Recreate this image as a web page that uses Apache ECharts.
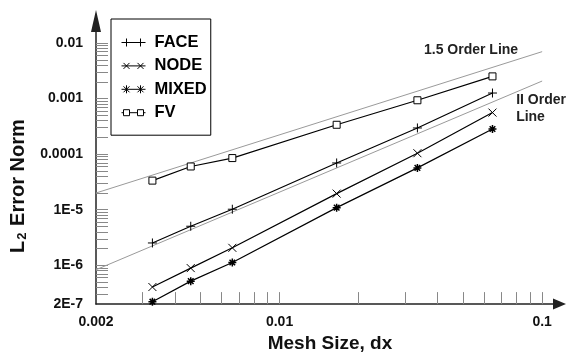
<!DOCTYPE html>
<html>
<head>
<meta charset="utf-8">
<script src="https://cdn.jsdelivr.net/npm/echarts@6/dist/echarts.min.js"></script>
<style>
  html, body { margin: 0; padding: 0; background: #fff; }
  #main { width: 566px; height: 358px; }
</style>
</head>
<body>
<div id="main"></div>
<script>
// Mesh refinement study: L2 error norm versus mesh size
const meshSize = [0.00328, 0.00459, 0.00661, 0.0165, 0.0335, 0.0647];
const faceErr  = [2.52e-6, 5.04e-6, 1.02e-5, 6.94e-5, 2.96e-4, 1.26e-3];
const nodeErr  = [4.06e-7, 8.89e-7, 2.06e-6, 1.95e-5, 1.04e-4, 5.6e-4];
const mixedErr = [2.21e-7, 5.18e-7, 1.12e-6, 1.09e-5, 5.66e-5, 2.84e-4];
const fvErr    = [3.34e-5, 6.0e-5, 8.5e-5, 3.38e-4, 9.33e-4, 2.51e-3];

// Reference slope lines
const orderLineX = [0.002, 0.1];
const order15Y   = [2.0e-5, 7.0e-3];
const order2Y    = [8.3e-7, 2.07e-3];
const order15Label = '1.5 Order Line';
const order2Label  = 'II Order\nLine';

// Axis tick labels
const xLabelValues = [0.002, 0.01, 0.1];
const xLabelText   = ['0.002', '0.01', '0.1'];
const yLabelValues = [2e-7, 1e-6, 1e-5, 1e-4, 1e-3, 1e-2];
const yLabelText   = ['2E-7', '1E-6', '1E-5', '0.0001', '0.001', '0.01'];

const FONT = '"Liberation Sans", Arial, Helvetica, sans-serif';

// k * 10^n tick positions between two decades
function logTicks(lo, hi) {
  const out = [];
  for (let e = Math.floor(Math.log10(lo)) ; e <= Math.ceil(Math.log10(hi)); e++) {
    for (let k = 1; k <= 9; k++) {
      const v = +(k * Math.pow(10, e)).toPrecision(6);
      if (v >= lo * 0.9999 && v <= hi * 1.0001) out.push(v);
    }
  }
  return out;
}

function lookupLabel(values, texts) {
  return function (v) {
    for (let i = 0; i < values.length; i++) {
      if (Math.abs(Math.log10(v) - Math.log10(values[i])) < 1e-4) return texts[i];
    }
    return '';
  };
}

function pairs(xs, ys) { return xs.map((x, i) => [x, ys[i]]); }

// Marker outlines (stroked, not filled)
const plusPath  = 'path://M0,5L10,5M5,0L5,10';
const crossPath = 'path://M0,0L10,10M10,0L0,10';
const starPath  = 'path://M0,5L10,5M5,0L5,10M1.5,1.5L8.5,8.5M8.5,1.5L1.5,8.5';
const boxPath   = 'path://M0,0L10,0L10,10L0,10Z';

// Legend swatches: a short line with two markers
const legendIcons = {
  FACE:  'path://M0,0M24,10M0,5L24,5M5,1L5,9M19,1L19,9',
  NODE:  'path://M0,0M24,10M0,5L24,5M2,2L8,8M8,2L2,8M16,2L22,8M22,2L16,8',
  MIXED: 'path://M0,0M24,10M0,5L24,5M2,2L8,8M8,2L2,8M5,1L5,9M16,2L22,8M22,2L16,8M19,1L19,9',
  FV:    'path://M0,0M24,10M0,5L2,5M8,5L16,5M22,5L24,5M2,2L8,2L8,8L2,8ZM16,2L22,2L22,8L16,8Z'
};

const markerStyle = { color: '#fff', borderColor: '#000', borderWidth: 1 };

function dataSeries(name, ys, symbol, size, bw) {
  return {
    name: name, type: 'line', data: pairs(meshSize, ys),
    symbol: symbol, symbolSize: size, showSymbol: true,
    lineStyle: { color: '#000', width: 1.2 },
    itemStyle: { color: '#fff', borderColor: '#000', borderWidth: bw || 1 },
    emphasis: { disabled: true }, silent: true, z: 3
  };
}

function refSeries(name, ys, labelText, labelPos, align) {
  const d = pairs(orderLineX, ys);
  d[1] = {
    value: d[1],
    label: {
      show: true, formatter: labelText, position: labelPos, align: align,
      verticalAlign: 'middle', fontFamily: FONT, fontSize: 14, fontWeight: 'bold',
      color: '#222', lineHeight: 17
    }
  };
  return {
    name: name, type: 'line', data: d, symbol: 'circle', symbolSize: 0,
    lineStyle: { color: '#9a9a9a', width: 1 },
    itemStyle: { color: '#9a9a9a' },
    emphasis: { disabled: true }, silent: true, z: 2
  };
}

const chart = echarts.init(document.getElementById('main'), null, { renderer: 'canvas' });

chart.setOption({
  animation: false,
  backgroundColor: '#fff',
  grid: { left: 96, right: 13, top: 32, bottom: 48 },
  legend: {
    orient: 'vertical', left: 111, top: 19,
    padding: [15, 4, 14, 10], itemGap: 6.4,
    itemWidth: 24, itemHeight: 10,
    borderColor: '#000', borderWidth: 1,
    selectedMode: false,
    textStyle: { fontFamily: FONT, fontSize: 16.5, fontWeight: 'bold', color: '#000', lineHeight: 16, padding: [0, 0, 0, 4] },
    data: ['FACE', 'NODE', 'MIXED', 'FV'].map(n => ({ name: n, icon: legendIcons[n], itemStyle: markerStyle }))
  },
  xAxis: {
    type: 'log', logBase: 10, min: 0.002, max: 0.11,
    splitLine: { show: false },
    axisLine: {
      show: true, lineStyle: { color: '#222', width: 1.5 },
      symbol: ['none', 'triangle'], symbolSize: [11, 13], symbolOffset: [0, 6.5]
    },
    axisTick: { show: true, inside: true, length: 12, customValues: logTicks(0.003, 0.1), lineStyle: { color: '#888', width: 1 } },
    minorTick: { show: false },
    axisLabel: {
      customValues: xLabelValues, formatter: lookupLabel(xLabelValues, xLabelText),
      margin: 11, fontFamily: FONT, fontSize: 14, fontWeight: 'bold', color: '#111'
    },
    name: 'Mesh Size, dx', nameLocation: 'middle', nameGap: 28,
    nameTextStyle: { fontFamily: FONT, fontSize: 19, fontWeight: 'bold', color: '#111', padding: [0, 0, 0, 11] }
  },
  yAxis: {
    type: 'log', logBase: 10, min: 2e-7, max: 0.0158,
    splitLine: { show: false },
    axisLine: {
      show: true, lineStyle: { color: '#222', width: 1.5 },
      symbol: ['none', 'triangle'], symbolSize: [10, 22], symbolOffset: [0, 11]
    },
    axisTick: { show: true, inside: true, length: 12, customValues: logTicks(3e-7, 0.01), lineStyle: { color: '#888', width: 1 } },
    minorTick: { show: false },
    axisLabel: {
      customValues: yLabelValues, formatter: lookupLabel(yLabelValues, yLabelText),
      margin: 13, fontFamily: FONT, fontSize: 14, fontWeight: 'bold', color: '#111'
    },
    name: 'L{sub|2} Error Norm', nameLocation: 'middle', nameGap: 61, nameRotate: 90,
    nameTextStyle: {
      fontFamily: FONT, fontSize: 20, fontWeight: 'bold', color: '#111', padding: [0, 36, 0, 0],
      rich: { sub: { fontFamily: FONT, fontSize: 13, fontWeight: 'bold', color: '#111', verticalAlign: 'top', padding: [9, 1, 0, 1] } }
    }
  },
  series: [
    refSeries('1.5 Order Line', order15Y, order15Label, [-24, -2], 'right'),
    refSeries('II Order Line', order2Y, order2Label, [-26, 28], 'left'),
    dataSeries('FACE', faceErr, plusPath, 9),
    dataSeries('NODE', nodeErr, crossPath, 8),
    dataSeries('MIXED', mixedErr, starPath, 8, 1.5),
    dataSeries('FV', fvErr, boxPath, 7)
  ]
});
</script>
</body>
</html>
